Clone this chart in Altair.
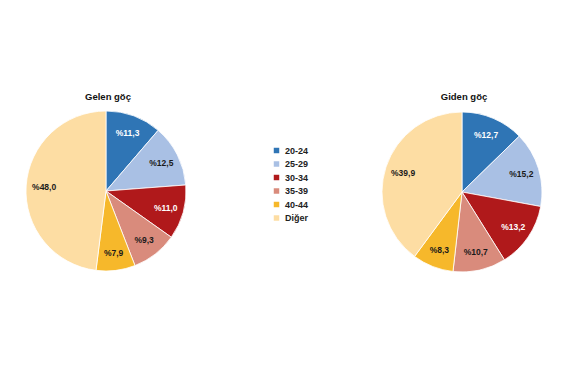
import altair as alt
import pandas as pd

categories = ["20-24", "25-29", "30-34", "35-39", "40-44", "Diğer"]
gelen = [11.3, 12.5, 11.0, 9.3, 7.9, 48.0]
giden = [12.7, 15.2, 13.2, 10.7, 8.3, 39.9]
colors = ["#2F75B5", "#A9C0E4", "#B0191B", "#D98B7C", "#F6B82B", "#FDDDA3"]
text_colors = ["#FFFFFF", "#1A1A1A", "#FFFFFF", "#1A1A1A", "#1A1A1A", "#1A1A1A"]
panel_titles = ["Gelen göç", "Giden göç"]

rows = []
for panel, vals in (("gelen", gelen), ("giden", giden)):
    for i, (c, v) in enumerate(zip(categories, vals)):
        rows.append({"panel": panel, "cat": c, "idx": i, "value": v,
                     "label": "%" + f"{v:.1f}".replace(".", ","),
                     "tcol": text_colors[i]})
df = pd.DataFrame(rows)

centers = {"gelen": (106, 191), "giden": (462, 192)}
R = 80

color_scale = alt.Scale(domain=categories, range=colors)

layers = []
for k, (panel, (cx, cy)) in enumerate(centers.items()):
    base = alt.Chart(df).transform_filter(alt.datum.panel == panel)
    arc = base.mark_arc(outerRadius=R, stroke="white", strokeWidth=0.8).encode(
        theta=alt.Theta("value:Q", stack=True),
        order=alt.Order("idx:Q"),
        color=alt.Color("cat:N", scale=color_scale, sort=categories,
                        legend=alt.Legend(title=None, orient="none", legendX=272, legendY=146,
                                          symbolType="square", symbolSize=30,
                                          labelFont="Liberation Sans", labelFontSize=9,
                                          labelFontWeight="bold", labelColor="#222222",
                                          rowPadding=3.5, symbolStrokeWidth=0)),
        x=alt.value(cx), y=alt.value(cy),
    )
    txt = base.mark_text(radius=62, font="Liberation Sans", fontSize=8.5, fontWeight="bold").encode(
        theta=alt.Theta("value:Q", stack=True),
        order=alt.Order("idx:Q"),
        text="label:N",
        color=alt.Color("tcol:N", scale=None),
        x=alt.value(cx), y=alt.value(cy),
    )
    title = alt.Chart(pd.DataFrame({"t": [panel_titles[k]]})).mark_text(
        font="Liberation Sans", fontSize=9.5, fontWeight="bold", color="#111111"
    ).encode(text="t:N", x=alt.value(cx + 2), y=alt.value(97))
    layers += [arc, txt, title]

chart = alt.layer(*layers).properties(
    width=576, height=375, autosize=alt.AutoSizeParams(type="none"), padding=0,
    background="white"
).configure_view(stroke=None)

chart.save("out.html", embed_options={"renderer": "svg", "actions": False})
